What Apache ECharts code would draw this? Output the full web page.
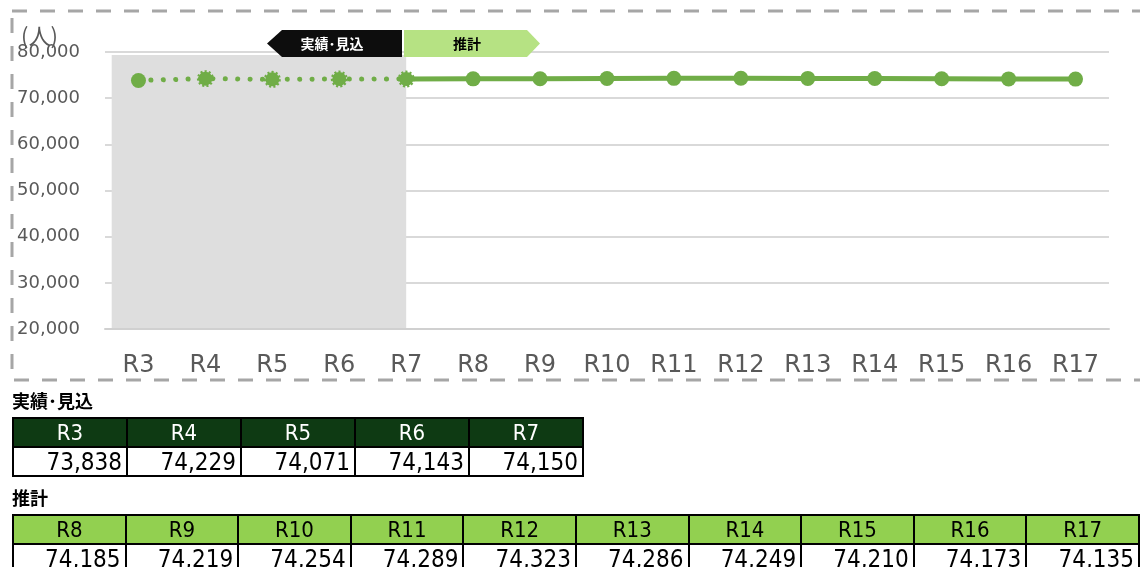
<!DOCTYPE html>
<html>
<head>
<meta charset="utf-8">
<script src="https://cdn.jsdelivr.net/npm/echarts@6/dist/echarts.min.js"></script>
<style>
html,body{margin:0;padding:0;background:#fff;}
#chart{position:absolute;left:0;top:0;width:1140px;height:567px;}
.blk{position:absolute;left:12px;font-family:"DejaVu Sans Condensed","DejaVu Sans",sans-serif;}
.blk h4{margin:0;font-size:18px;font-weight:bold;color:#000;font-family:"Noto Sans CJK JP",sans-serif;line-height:22px;}
table{border-collapse:collapse;margin-top:6px;table-layout:fixed;}
td{border:2px solid #000;height:29px;padding:0 4px;font-size:24px;line-height:26px;box-sizing:border-box;overflow:hidden;white-space:nowrap;}
tr.hd td{text-align:center;font-size:22px;}
tr.vl td{text-align:right;background:#fff;color:#000;}
</style>
</head>
<body>
<div id="chart"></div>
<div class="blk" id="b1" style="top:389px"><h4>実績･見込</h4><table id="t1"></table></div>
<div class="blk" id="b2" style="top:486px"><h4>推計</h4><table id="t2"></table></div>
<script>
//年度
const years = ['R3','R4','R5','R6','R7','R8','R9','R10','R11','R12','R13','R14','R15','R16','R17'];
//実績・見込（R3～R7）
const actualYears = ['R3','R4','R5','R6','R7'];
const actualValues = [73838,74229,74071,74143,74150];
//推計（R8～R17）
const projYears = ['R8','R9','R10','R11','R12','R13','R14','R15','R16','R17'];
const projValues = [74185,74219,74254,74289,74323,74286,74249,74210,74173,74135];
//縦軸
const yMin = 20000, yMax = 80000, yStep = 10000;

const green = '#70ad47';
const fmt = v => v.toLocaleString('en-US');

//表を作る
function buildTable(id, heads, vals, headBg, headColor){
	const t = document.getElementById(id);
	let h = '<tr class="hd">' + heads.map(x=>`<td style="width:114px;background:${headBg};color:${headColor}">${x}</td>`).join('') + '</tr>';
	let v = '<tr class="vl">' + vals.map(x=>`<td>${fmt(x)}</td>`).join('') + '</tr>';
	t.innerHTML = h + v;
}
buildTable('t1', actualYears, actualValues, '#0e3a13', '#fff');
buildTable('t2', projYears, projValues, '#92d050', '#000');

//グラフ用データ
const actualData = years.map(y=>{
	const i = actualYears.indexOf(y);
	if(i<0) return '-';
	const jag = i>0;
	return {value: actualValues[i], symbolSize: jag?14:15,
		itemStyle: jag?{borderType:[2,2],borderWidth:3,borderColor:green}:{}};
});
const projData = years.map(y=>{
	const i = projYears.indexOf(y);
	if(i>=0) return projValues[i];
	if(y===actualYears[actualYears.length-1]) return {value: actualValues[actualValues.length-1], symbol:'none'};
	return '-';
});

const myChart = echarts.init(document.getElementById('chart'));
const option = {
	animation:false,
	title:{text:'(人)',left:16,top:20,textStyle:{fontSize:22,fontWeight:'normal',color:'#595959',fontFamily:'Noto Sans CJK JP'}},
	grid:{left:105,right:31,top:52,bottom:238,outerBoundsMode:'none',containLabel:false},
	xAxis:{type:'category',data:years,boundaryGap:true,
		axisLine:{show:true,lineStyle:{color:'#d0d0d0',width:2}},
		axisTick:{show:false},
		axisLabel:{color:'#595959',fontSize:24,fontFamily:'DejaVu Sans',margin:25}},
	yAxis:{type:'value',min:yMin,max:yMax,interval:yStep,
		axisLine:{show:false},axisTick:{show:false},
		splitLine:{lineStyle:{color:'#d9d9d9',width:2}},
		axisLabel:{color:'#595959',fontSize:18,fontFamily:'DejaVu Sans',margin:88,align:'left',
			formatter:v=>fmt(v)}},
	graphic:[
		{type:'rect',shape:{x:12,y:11,width:1140,height:369},
			style:{fill:null,stroke:'#a6a6a6',lineWidth:3,lineDash:[15,13]},z:-1},
		{type:'polygon',shape:{points:[[267,43.5],[282,30],[402,30],[402,57],[282,57]]},style:{fill:'#0d0d0d'},z:10},
		{type:'text',style:{text:'実績･見込',x:332,y:44,align:'center',verticalAlign:'middle',fill:'#fff',
			font:'bold 14px "Noto Sans CJK JP"'},z:11},
		{type:'polygon',shape:{points:[[404,30],[527,30],[540,43.5],[527,57],[404,57]]},style:{fill:'#b6e283'},z:10},
		{type:'text',style:{text:'推計',x:467,y:44,align:'center',verticalAlign:'middle',fill:'#000',
			font:'bold 14px "Noto Sans CJK JP"'},z:11}
	],
	series:[
		{type:'custom',silent:true,z:0,data:[[0,actualYears.length-1]],
			renderItem(params,api){
				const a = api.coord([api.value(0),yMax]);
				const b = api.coord([api.value(1),yMin]);
				const w = api.size([1,0])[0];
				return {type:'rect',shape:{x:a[0]-w*0.4,y:a[1]+3,width:b[0]-a[0]+w*0.4,height:b[1]-a[1]-3},
					style:{fill:'#dedede'}};
			}},
		{type:'line',data:projData,symbol:'circle',symbolSize:15,z:3,
			lineStyle:{color:green,width:5},itemStyle:{color:green}},
		{type:'line',data:actualData,symbol:'circle',z:4,
			lineStyle:{color:green,width:5,type:[0.1,12.3],cap:'round'},itemStyle:{color:green}}
	]
};
myChart.setOption(option);
window.addEventListener('resize',function(){myChart.resize();});
</script>
</body>
</html>
